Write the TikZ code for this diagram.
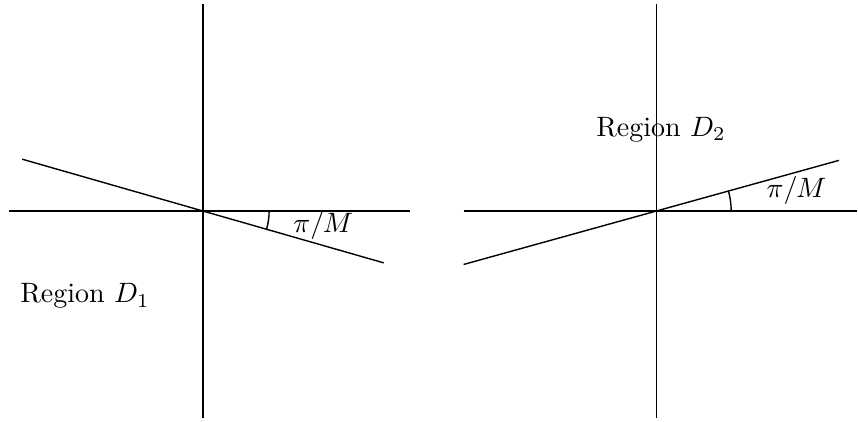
\documentclass[tikz,border=0pt]{standalone}
\usepackage{amsmath,amssymb}
\usepackage{tikz}
\usetikzlibrary{positioning,calc}
\tikzset{axis/.style={line width=.5pt},ray/.style={line width=.5pt},angarc/.style={line width=.5pt}}

\begin{document}
\begin{tikzpicture}
\useasboundingbox (-2.548,-2.636) rectangle (8.222,2.649);
% left picture
\coordinate (o1) at (0,0);
\coordinate (t1) at (0,2.6);\coordinate (b1) at (0,-2.6);
\coordinate (l1) at (-2.435,0);\coordinate (r1) at (2.6,0);
\coordinate (p1) at (164:2.36);\coordinate (q1) at (-16:2.36);
\draw[axis] (t1)--(b1);\draw[axis] (l1)--(r1);
\draw[ray] (p1)--(q1);
\draw[angarc] ($(o1)+(-16:.83)$) arc (-16:0:.83);
\node (ang1) at (1.51,-.18) {$\pi/M$};
\node (reg1) at (-1.48,-1.07) {Region $D_1$};
% right picture
\coordinate (o2) at (5.69,0);
\coordinate (t2) at ($(o2)+(0,2.6)$);\coordinate (b2) at ($(o2)+(0,-2.6)$);
\coordinate (l2) at ($(o2)+(-2.42,0)$);\coordinate (r2) at ($(o2)+(2.52,0)$);
\coordinate (p2) at ($(o2)+(195.5:2.51)$);\coordinate (q2) at ($(o2)+(15.5:2.38)$);
\draw[axis] (t2)--(b2);\draw[axis] (l2)--(r2);
\draw[ray] (p2)--(q2);
\draw[angarc] ($(o2)+(0:.94)$) arc (0:15.5:.94);
\node (ang2) at ($(o2)+(1.76,.26)$) {$\pi/M$};
\node (reg2) at ($(o2)+(.06,1.02)$) {Region $D_2$};
\end{tikzpicture}
\end{document}
